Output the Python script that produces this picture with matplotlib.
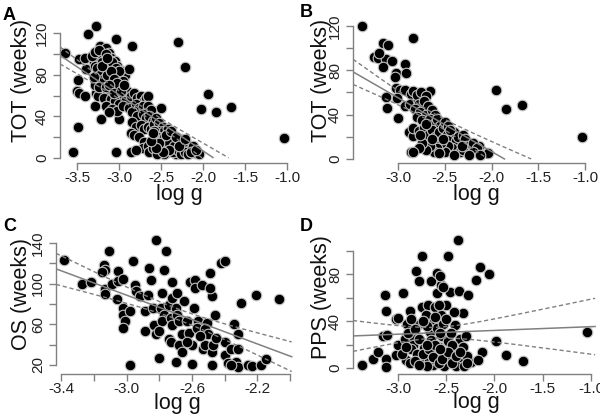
import numpy as np
import matplotlib
matplotlib.use('Agg')
import matplotlib.pyplot as plt

plt.rcParams['font.family'] = ['Liberation Sans', 'DejaVu Sans']

# A: TOT vs log g, all patients
tot_all = [
    (-3.64, 101), (-3.37, 119), (-3.27, 127), (-3.03, 114), (-2.84, 108), (-2.30, 111),
    (-2.21, 87), (-1.94, 61), (-2.02, 47), (-1.84, 44), (-1.67, 49), (-1.03, 19),
    (-3.55, 6), (-3.49, 30), (-3.03, 6), (-2.86, 6), (-2.50, 48),
    (-3.47, 95), (-3.41, 96), (-3.39, 85), (-3.49, 75), (-3.50, 64), (-3.48, 62),
    (-3.40, 60), (-3.29, 50), (-3.21, 37), (-3.00, 37), (-3.27, 62),
    (-3.22, 108), (-3.18, 104), (-3.15, 106), (-3.12, 101), (-3.20, 98), (-3.25, 95),
    (-3.30, 92), (-3.16, 94), (-3.10, 96), (-3.05, 93), (-3.28, 88), (-3.22, 86),
    (-3.14, 88), (-3.08, 85), (-3.02, 88), (-2.97, 84), (-2.93, 80), (-2.88, 85),
    (-3.26, 80), (-3.18, 82), (-3.12, 78), (-3.06, 80), (-3.00, 76), (-2.95, 74),
    (-3.23, 74), (-3.17, 72), (-3.10, 73), (-3.04, 70), (-2.98, 68), (-3.28, 70),
    (-3.20, 66), (-3.14, 64), (-3.08, 66), (-3.02, 62), (-2.96, 60), (-3.25, 60),
    (-3.18, 58), (-3.10, 57), (-3.05, 55), (-3.00, 52), (-2.92, 56), (-2.90, 64),
    (-2.86, 60), (-3.15, 50), (-3.08, 47), (-3.02, 45), (-2.95, 50), (-2.88, 48),
    (-3.12, 44),
    (-3.32, 98), (-3.28, 102), (-3.24, 104), (-3.20, 92), (-3.16, 100), (-3.12, 90),
    (-3.08, 92), (-3.04, 86), (-3.00, 84), (-3.26, 86), (-3.22, 80), (-3.18, 76),
    (-3.14, 80), (-3.10, 84), (-3.06, 76), (-3.02, 72), (-3.30, 78), (-3.24, 68),
    (-3.16, 68), (-3.12, 70), (-3.06, 62), (-2.98, 64), (-2.94, 70), (-3.20, 88),
    (-3.14, 96),
    (-2.82, 62), (-2.78, 58), (-2.74, 60), (-2.70, 55), (-2.68, 58), (-2.65, 60),
    (-2.80, 52), (-2.76, 48), (-2.72, 50), (-2.66, 50), (-2.62, 46), (-2.84, 44),
    (-2.78, 40), (-2.72, 42), (-2.68, 38), (-2.64, 40), (-2.60, 36), (-2.85, 35),
    (-2.80, 30), (-2.74, 32), (-2.70, 28), (-2.66, 30), (-2.62, 28), (-2.58, 33),
    (-2.86, 24), (-2.82, 22), (-2.76, 20), (-2.70, 15), (-2.72, 10), (-2.66, 12),
    (-2.64, 6), (-2.80, 8),
    (-2.56, 38), (-2.52, 34), (-2.48, 30), (-2.54, 26), (-2.50, 22), (-2.46, 26),
    (-2.42, 28), (-2.40, 20), (-2.44, 16), (-2.48, 12), (-2.52, 8), (-2.56, 15),
    (-2.58, 20), (-2.36, 22), (-2.34, 16), (-2.38, 10), (-2.32, 4), (-2.42, 6),
    (-2.46, 4), (-2.30, 14), (-2.26, 18), (-2.24, 10), (-2.20, 14), (-2.16, 8),
    (-2.12, 12), (-2.10, 5), (-2.05, 4), (-2.28, 6), (-2.60, 10), (-2.55, 4),
    (-2.58, 26), (-2.54, 20), (-2.50, 16), (-2.46, 20), (-2.44, 10), (-2.40, 14),
    (-2.36, 6), (-2.34, 12), (-2.30, 8), (-2.26, 4), (-2.22, 6), (-2.18, 4),
    (-2.14, 6), (-2.40, 8), (-2.48, 6), (-2.52, 14), (-2.56, 10), (-2.62, 16),
    (-2.60, 24), (-2.44, 22), (-2.38, 26), (-2.32, 20), (-2.28, 12), (-2.08, 8),
    (-2.22, 18),
]

# B: TOT vs log g, subset
tot_sub = [
    (-3.38, 120), (-2.84, 109), (-3.26, 92), (-3.21, 91), (-3.16, 105), (-3.11, 103),
    (-3.13, 90), (-3.16, 83), (-2.92, 86), (-3.02, 78), (-3.03, 74), (-2.91, 78),
    (-3.02, 64), (-2.98, 62), (-2.92, 62), (-2.86, 59), (-3.13, 56), (-3.01, 55),
    (-3.12, 46), (-3.00, 37), (-2.93, 48), (-2.87, 50), (-2.84, 61), (-2.66, 61),
    (-2.79, 53), (-2.88, 24), (-2.84, 21), (-2.86, 6), (-2.34, 14), (-2.13, 12),
    (-2.04, 5), (-2.23, 14), (-1.95, 62), (-1.85, 45), (-1.67, 49), (-1.03, 20),
    (-2.80, 58), (-2.75, 60), (-2.70, 57), (-2.78, 50), (-2.72, 52), (-2.68, 48),
    (-2.82, 45), (-2.76, 42), (-2.70, 40), (-2.64, 44), (-2.60, 40), (-2.80, 38),
    (-2.74, 35), (-2.66, 36), (-2.62, 32), (-2.58, 36), (-2.55, 30), (-2.84, 28),
    (-2.78, 25), (-2.72, 28), (-2.68, 22), (-2.64, 26), (-2.60, 20), (-2.56, 24),
    (-2.52, 28), (-2.50, 33), (-2.46, 30), (-2.48, 22), (-2.44, 18), (-2.40, 24),
    (-2.38, 16), (-2.42, 10), (-2.46, 12), (-2.50, 6), (-2.54, 14), (-2.58, 10),
    (-2.62, 6), (-2.66, 12), (-2.70, 8), (-2.74, 14), (-2.34, 6), (-2.36, 20),
    (-2.30, 22), (-2.28, 18), (-2.26, 12), (-2.20, 14), (-2.16, 10), (-2.30, 8),
    (-2.40, 4), (-2.56, 5), (-2.78, 10), (-2.84, 6), (-2.64, 18), (-2.52, 18),
    (-2.44, 26), (-2.70, 32), (-2.76, 22),
    (-2.20, 6), (-2.24, 4), (-2.12, 4), (-2.32, 12), (-3.06, 88), (-3.20, 96),
]

# C: OS vs log g
os_pts = [
    (-3.38, 123), (-3.27, 100), (-3.22, 102), (-3.11, 132), (-3.14, 118), (-3.13, 113),
    (-3.15, 111), (-3.13, 95), (-3.13, 90), (-3.09, 100), (-3.05, 112), (-3.05, 103),
    (-3.02, 105), (-3.06, 85), (-2.96, 122), (-2.95, 99), (-2.94, 93), (-2.92, 88),
    (-3.02, 76), (-3.02, 69), (-3.01, 63), (-3.02, 56), (-2.98, 73), (-2.89, 73),
    (-2.87, 89), (-2.86, 115), (-2.85, 104), (-2.89, 53), (-2.98, 20), (-2.82, 143),
    (-2.84, 76), (-2.83, 59), (-2.82, 50), (-2.78, 91), (-2.77, 113), (-2.76, 132),
    (-2.80, 27), (-2.79, 76), (-2.77, 69), (-2.78, 63), (-2.80, 53), (-2.74, 79),
    (-2.73, 66), (-2.72, 59), (-2.74, 46), (-2.73, 43), (-2.72, 102), (-2.72, 86),
    (-2.70, 76), (-2.69, 91), (-2.69, 69), (-2.68, 63), (-2.70, 23), (-2.68, 40),
    (-2.66, 33), (-2.65, 83), (-2.61, 102), (-2.63, 63), (-2.66, 50), (-2.62, 51),
    (-2.60, 40), (-2.63, 43), (-2.58, 104), (-2.59, 76), (-2.56, 63), (-2.54, 56),
    (-2.58, 96), (-2.60, 21), (-2.57, 56), (-2.54, 99), (-2.53, 36), (-2.51, 61),
    (-2.49, 110), (-2.48, 88), (-2.49, 96), (-2.52, 55), (-2.52, 40), (-2.50, 50),
    (-2.48, 33), (-2.48, 20), (-2.47, 40), (-2.46, 69), (-2.42, 120), (-2.40, 122),
    (-2.40, 43), (-2.40, 30), (-2.38, 22), (-2.36, 36), (-2.34, 60), (-2.30, 81),
    (-2.32, 50), (-2.32, 36), (-2.33, 23), (-2.32, 18), (-2.26, 20), (-2.23, 19),
    (-2.21, 89), (-2.18, 20), (-2.15, 26), (-2.07, 85), (-2.36, 20), (-2.55, 48),
    (-2.45, 47),
]

# D: PPS vs log g
pps_pts = [
    (-3.37, 3), (-3.26, 8), (-3.21, 14), (-3.16, 27), (-3.13, 62), (-3.12, 49),
    (-3.12, 8), (-3.12, 1), (-3.11, 28), (-3.02, 42), (-3.02, 11), (-3.00, 20),
    (-2.95, 64), (-2.93, 25), (-2.92, 7), (-2.91, 38), (-2.88, 49), (-2.85, 28),
    (-2.84, 20), (-2.86, 16), (-2.81, 83), (-2.80, 37), (-2.78, 74), (-2.75, 96),
    (-2.75, 52), (-2.73, 17), (-2.72, 11), (-2.76, 7), (-2.69, 54), (-2.71, 45),
    (-2.67, 31), (-2.66, 24), (-2.66, 74), (-2.62, 52), (-2.63, 40), (-2.60, 34),
    (-2.60, 64), (-2.60, 81), (-2.60, 6), (-2.57, 11), (-2.64, 3), (-2.55, 71),
    (-2.55, 45), (-2.53, 38), (-2.54, 27), (-2.50, 54), (-2.48, 23), (-2.50, 4),
    (-2.48, 96), (-2.46, 65), (-2.41, 37), (-2.39, 16), (-2.43, 8), (-2.38, 109),
    (-2.37, 66), (-2.33, 47), (-2.36, 25), (-2.37, 8), (-2.33, 18), (-2.31, 6),
    (-2.27, 62), (-2.30, 27), (-2.24, 5), (-2.19, 75), (-2.15, 86), (-2.13, 14),
    (-2.17, 7), (-2.06, 80), (-1.98, 23), (-1.88, 11), (-1.70, 6), (-1.04, 31),
    (-2.90, 30), (-2.82, 33), (-2.78, 25), (-2.70, 36), (-2.65, 14), (-2.58, 18),
    (-2.52, 12), (-2.45, 30), (-2.42, 48), (-2.56, 30), (-2.68, 6), (-2.80, 12),
    (-2.96, 12), (-2.62, 44), (-2.46, 10), (-2.34, 4), (-2.28, 10), (-2.74, 40),
    (-2.58, 54), (-2.50, 42), (-2.44, 20), (-2.40, 2), (-2.52, 2), (-2.86, 42),
    (-2.70, 2), (-2.56, 79), (-2.53, 69), (-3.00, 43),
    (-2.88, 4), (-2.82, 6), (-2.78, 3), (-2.74, 12), (-2.68, 16), (-2.64, 9),
    (-2.58, 4), (-2.54, 8), (-2.48, 14), (-2.44, 4), (-2.40, 10), (-2.36, 14),
    (-2.32, 2), (-2.28, 4), (-2.62, 20), (-2.92, 18), (-2.70, 20), (-2.56, 16),
]

ylabels = ['TOT (weeks)', 'TOT (weeks)', 'OS (weeks)', 'PPS (weeks)']
letters = ['A', 'B', 'C', 'D']

T95 = 1.97
GREY = '#808080'


def fit_band(pts, grid):
    x = np.array([p[0] for p in pts])
    y = np.array([p[1] for p in pts])
    slope, icpt = np.polyfit(x, y, 1)
    res = y - (icpt + slope * x)
    n = len(x)
    s = np.sqrt(np.sum(res ** 2) / (n - 2))
    sxx = np.sum((x - x.mean()) ** 2)
    se = s * np.sqrt(1.0 / n + (grid - x.mean()) ** 2 / sxx)
    fit = icpt + slope * grid
    return fit, fit - T95 * se, fit + T95 * se


def style(ax, xt, xlab_every, yt, ylab_every):
    for sp in ['top', 'right']:
        ax.spines[sp].set_visible(False)
    for sp in ['left', 'bottom']:
        ax.spines[sp].set_color(GREY)
        ax.spines[sp].set_linewidth(1.0)
    ax.spines['bottom'].set_bounds(xt[0], xt[-1])
    ax.spines['left'].set_bounds(yt[0], yt[-1])
    ax.set_xticks(xt)
    ax.set_xticklabels(['%.1f' % v if i % xlab_every == 0 else '' for i, v in enumerate(xt)])
    ax.set_yticks(yt)
    ax.set_yticklabels(['%d' % v if i % ylab_every == 0 else '' for i, v in enumerate(yt)])
    ax.tick_params(axis='both', length=5, width=1.0, color=GREY, labelsize=11, labelcolor='#222222')
    ax.tick_params(axis='x', pad=1)
    ax.tick_params(axis='y', pad=3, labelrotation=90)
    for lab in ax.get_yticklabels():
        lab.set_va('center')


fig = plt.figure(figsize=(6.0, 4.16), dpi=100)

W, H = 600.0, 416.0
# axes boxes in pixels: left, right, bottom, top
boxes = [(60, 295, 163, 20), (353, 597, 163, 16), (56, 295, 374, 232), (353, 597, 374, 235)]
xlims = [(-3.702, -0.905), (-3.481, -0.872), (-3.431, -1.97), (-3.466, -0.938)]
ylims = [(-4.8, 132.5), (-3.6, 129.0), (11.1, 150.8), (-5.1, 113.6)]
xticks = [np.arange(-3.5, -0.99, 0.5), np.arange(-3.0, -0.99, 0.5),
          np.arange(-3.4, -1.99, 0.2), np.arange(-3.0, -0.99, 0.5)]
xevery = [1, 1, 2, 1]
yticks = [np.arange(0, 121, 20), np.arange(0, 121, 20), np.arange(20, 141, 20), np.arange(0, 101, 20)]
clip0 = [True, True, False, False]
data = [tot_all, tot_sub, os_pts, pps_pts]

# label positions (px): ylabel center, xlabel center/top, letter baseline
ylab_pos = [(21, 80), (321, 80), (21, 294), (321, 297)]
xlab_pos = [(179, 184), (476, 184), (177, 393), (476, 392)]
letter_pos = [(3, 20), (300, 17), (3, 231), (300, 231)]

for k in range(4):
    l, r, b, t = boxes[k]
    ax = fig.add_axes([l / W, (H - b) / H, (r - l) / W, (b - t) / H])
    pts = data[k]
    ax.scatter([p[0] for p in pts], [p[1] for p in pts], s=58, c='black',
               edgecolors='#c4c4c4', linewidths=0.8, zorder=2, clip_on=False)
    grid = np.linspace(xlims[k][0], xlims[k][1] - 0.02, 300)
    fit, lo, hi = fit_band(pts, grid)
    if clip0[k]:
        fit = np.where(fit < 0, np.nan, fit)
        lo = np.where(lo < 0, np.nan, lo)
        hi = np.where(hi < 0, np.nan, hi)
    ax.plot(grid, fit, color=GREY, lw=1.1, zorder=3)
    ax.plot(grid, lo, color=GREY, lw=1.0, ls=(0, (3, 2)), zorder=3)
    ax.plot(grid, hi, color=GREY, lw=1.0, ls=(0, (3, 2)), zorder=3)
    ax.set_xlim(*xlims[k])
    ax.set_ylim(*ylims[k])
    style(ax, xticks[k], xevery[k], yticks[k], 2)

    fig.text(ylab_pos[k][0] / W, (H - ylab_pos[k][1]) / H, ylabels[k], rotation=90,
             ha='center', va='center', fontsize=15.5, color='#111111')
    fig.text(xlab_pos[k][0] / W, (H - xlab_pos[k][1]) / H, 'log g',
             ha='center', va='top', fontsize=15.5, color='#111111')
    fig.text(letter_pos[k][0] / W, (H - letter_pos[k][1]) / H, letters[k],
             ha='left', va='baseline', fontsize=13, fontweight='bold')

fig.savefig('out.png', dpi=100)
